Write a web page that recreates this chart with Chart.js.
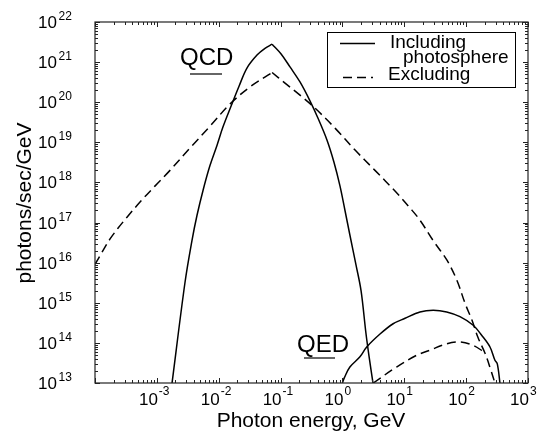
<!DOCTYPE html>
<html>
<head>
<meta charset="utf-8">
<script src="https://cdn.jsdelivr.net/npm/chart.js@4.4.1/dist/chart.umd.min.js"></script>
<style>
  html, body { margin: 0; padding: 0; background: #fff; }
</style>
</head>
<body>
<canvas id="myChart" width="537" height="434"></canvas>
<script>
// photon energy in GeV / flux in photons/sec/GeV

// QCD, including photosphere (solid)
const qcdInclE = [1.76e-3, 2.85e-3, 3.7e-3, 4.45e-3, 5.6e-3, 7.2e-3, 9.4e-3, 1.17e-2, 1.58e-2, 2.13e-2, 2.86e-2, 4.16e-2, 5.6e-2, 7.3e-2,
                  0.102, 0.142, 0.206, 0.30, 0.403, 0.562, 0.73, 0.914, 1.10, 1.32, 1.66, 2.0, 2.4, 2.69, 3.12];
const qcdInclN = [1.0e13, 3.2e15, 3.6e16, 1.5e17, 6.5e17, 2.6e18, 8.5e18, 2.4e19, 7.9e19, 2.5e20, 7.1e20, 1.5e21, 2.2e21, 2.8e21,
                  1.6e21, 7.6e20, 3.2e20, 1.07e20, 4.0e19, 1.15e19, 3.2e18, 8.1e17, 2.0e17, 4.9e16, 8.7e15, 2.0e15, 1.74e14, 4.7e13, 1.0e13];

// QCD, excluding photosphere (dashed)
const qcdExclE = [1.0e-4, 1.30e-4, 1.75e-4, 2.35e-4, 3.29e-4, 5.3e-4, 9.3e-4, 1.63e-3, 3.43e-3, 7.2e-3, 1.52e-2, 3.2e-2, 7.3e-2,
                  0.118, 0.206, 0.361, 0.759, 1.60, 3.36, 7.08, 12.4, 17.9, 29.1, 49.0, 71.1, 95.7, 124, 155, 202, 243, 292];
const qcdExclN = [9.1e15, 1.82e16, 3.9e16, 7.2e16, 1.36e17, 3.2e17, 8.1e17, 2.0e18, 7.2e18, 2.5e19, 9.0e19, 2.4e20, 5.5e20,
                  3.0e20, 1.5e20, 7.1e19, 2.26e19, 6.4e18, 2.0e18, 6.1e17, 2.3e17, 1.15e17, 3.6e16, 1.15e16, 3.6e15, 9.8e14, 3.7e14, 1.38e14, 5.5e13, 2.45e13, 1.0e13];

// QED, including photosphere (solid)
const qedInclE = [1.0, 1.08, 1.32, 1.92, 2.47, 4.05, 6.6, 10.3, 17.9, 29.4, 48.5, 79.4, 130, 178, 243, 292, 319, 352];
const qedInclN = [1.0e13, 1.38e13, 2.5e13, 4.5e13, 7.9e13, 1.66e14, 3.0e14, 4.1e14, 5.9e14, 6.5e14, 5.9e14, 4.5e14, 2.75e14, 1.55e14, 7.9e13, 3.7e13, 3.0e13, 1.0e13];

// QED, excluding photosphere (dashed)
const qedExclE = [3.15, 7.5, 15.8, 26, 48.4, 79.4, 130, 202];
const qedExclN = [1.0e13, 2.5e13, 4.9e13, 6.6e13, 9.5e13, 1.05e14, 8.7e13, 5.7e13];

const xMin = 1e-4, xMax = 1e3;
const yMin = 1e13, yMax = 1e22;

const FONT = '"Liberation Sans", Arial, Helvetica, sans-serif';
const DASH = [9, 5];

function pts(xs, ys) {
  return xs.map((x, i) => ({ x: x, y: ys[i] }));
}

function line(data, dashed) {
  return {
    data: data,
    borderColor: '#000',
    borderWidth: 1.5,
    borderDash: dashed ? DASH : [],
    pointRadius: 0,
    tension: 0.35,
    fill: false
  };
}

// the QCD spectra have a sharp kink at the peak, so each side is its own smooth line
function splitAtPeak(xs, ys, dashed) {
  const k = ys.indexOf(Math.max(...ys));
  const all = pts(xs, ys);
  return [line(all.slice(0, k + 1), dashed), line(all.slice(k), dashed)];
}

// 1..9 x 10^n inside [min, max]
function logTicks(min, max) {
  const out = [];
  for (let n = Math.floor(Math.log10(min)); n <= Math.ceil(Math.log10(max)); n++) {
    for (let k = 1; k <= 9; k++) {
      const v = k * Math.pow(10, n);
      if (v >= min * 0.999 && v <= max * 1.001) out.push({ v: v, major: k === 1, n: n });
    }
  }
  return out;
}

const framePlugin = {
  id: 'frame',
  afterDraw(chart) {
    const ctx = chart.ctx;
    const a = chart.chartArea;
    const xs = chart.scales.x, ys = chart.scales.y;
    ctx.save();

    // box
    ctx.strokeStyle = '#222';
    ctx.lineWidth = 1.2;
    ctx.strokeRect(a.left, a.top, a.right - a.left, a.bottom - a.top);

    // inward ticks on all four sides
    ctx.lineWidth = 1;
    ctx.beginPath();
    logTicks(xMin, xMax).forEach(t => {
      const p = Math.round(xs.getPixelForValue(t.v)) + 0.5;
      const len = t.major ? 5 : 3;
      ctx.moveTo(p, a.bottom); ctx.lineTo(p, a.bottom - len);
      ctx.moveTo(p, a.top); ctx.lineTo(p, a.top + len);
    });
    logTicks(yMin, yMax).forEach(t => {
      const p = Math.round(ys.getPixelForValue(t.v)) + 0.5;
      const len = t.major ? 5 : 3;
      ctx.moveTo(a.left, p); ctx.lineTo(a.left + len, p);
      ctx.moveTo(a.right, p); ctx.lineTo(a.right - len, p);
    });
    ctx.stroke();

    // tick labels, 10 with a raised exponent
    ctx.fillStyle = '#000';
    logTicks(xMin, xMax).filter(t => t.major && t.n > -4).forEach(t => {
      const p = xs.getPixelForValue(t.v);
      ctx.font = '17px ' + FONT;
      ctx.textAlign = 'right';
      ctx.textBaseline = 'alphabetic';
      ctx.fillText('10', p + 1, a.bottom + 22);
      ctx.font = '12px ' + FONT;
      ctx.textAlign = 'left';
      ctx.fillText(String(t.n), p + 2, a.bottom + 12);
    });
    logTicks(yMin, yMax).filter(t => t.major).forEach(t => {
      const p = ys.getPixelForValue(t.v);
      ctx.font = '17px ' + FONT;
      ctx.textAlign = 'right';
      ctx.textBaseline = 'alphabetic';
      ctx.fillText('10', 57, p + 6);
      ctx.font = '12px ' + FONT;
      ctx.textAlign = 'left';
      ctx.fillText(String(t.n), 58.5, p - 2);
    });

    // axis titles
    ctx.font = '21px ' + FONT;
    ctx.textAlign = 'center';
    ctx.fillText('Photon energy, GeV', 311, 427);
    ctx.save();
    ctx.translate(31, 203);
    ctx.rotate(-Math.PI / 2);
    ctx.fillText('photons/sec/GeV', 0, 0);
    ctx.restore();

    // curve labels
    ctx.font = '24px ' + FONT;
    ctx.textAlign = 'left';
    ctx.fillText('QCD', 180, 65);
    ctx.fillText('QED', 297, 352);
    ctx.strokeStyle = '#666';
    ctx.lineWidth = 2;
    ctx.beginPath();
    ctx.moveTo(190, 74); ctx.lineTo(222, 74);
    ctx.moveTo(304, 358); ctx.lineTo(335, 358);
    ctx.stroke();

    // legend
    ctx.strokeStyle = '#000';
    ctx.lineWidth = 1;
    ctx.strokeRect(327.5, 32.5, 188, 55);
    ctx.lineWidth = 1.5;
    ctx.beginPath();
    ctx.moveTo(340, 43.5); ctx.lineTo(375, 43.5);
    ctx.stroke();
    ctx.setLineDash(DASH);
    ctx.beginPath();
    ctx.moveTo(343, 77.5); ctx.lineTo(373, 77.5);
    ctx.stroke();
    ctx.setLineDash([]);
    ctx.font = '19px ' + FONT;
    ctx.fillText('Including', 390, 48);
    ctx.fillText('photosphere', 403, 63);
    ctx.fillText('Excluding', 388, 80);

    ctx.restore();
  }
};

new Chart(document.getElementById('myChart').getContext('2d'), {
  type: 'line',
  data: {
    datasets: [
      ...splitAtPeak(qcdInclE, qcdInclN, false),
      ...splitAtPeak(qcdExclE, qcdExclN, true),
      line(pts(qedInclE, qedInclN), false),
      line(pts(qedExclE, qedExclN), true)
    ]
  },
  options: {
    responsive: false,
    animation: false,
    devicePixelRatio: 1,
    layout: { padding: { left: 95, top: 22, right: 9, bottom: 51 } },
    scales: {
      x: { type: 'logarithmic', min: xMin, max: xMax, display: false },
      y: { type: 'logarithmic', min: yMin, max: yMax, display: false }
    },
    plugins: {
      legend: { display: false },
      tooltip: { enabled: false }
    }
  },
  plugins: [framePlugin]
});
</script>
</body>
</html>
